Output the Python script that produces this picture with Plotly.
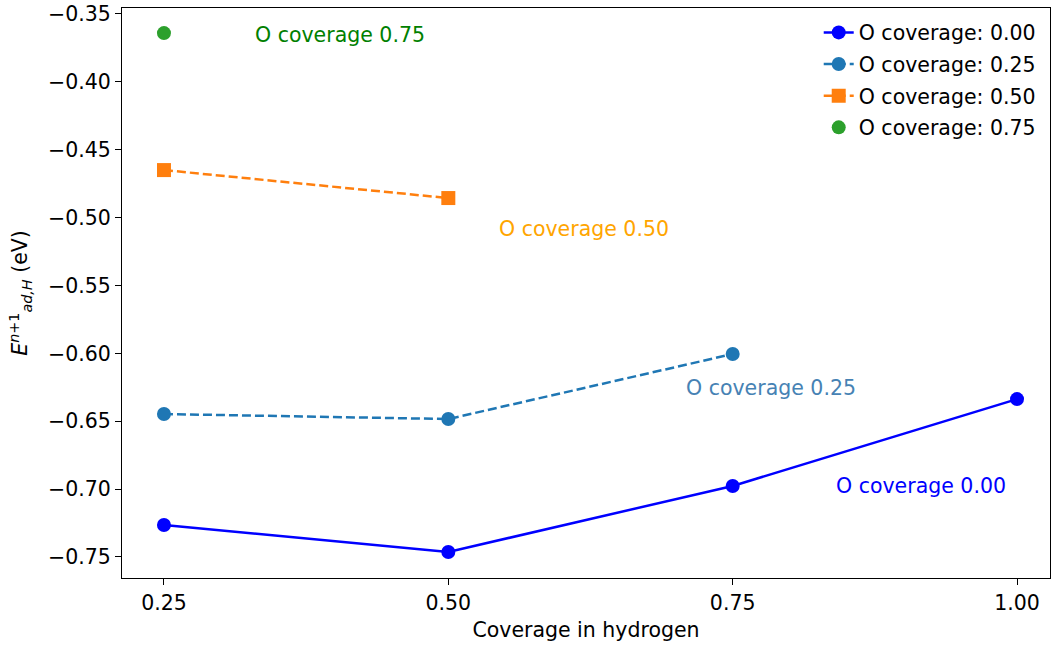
import plotly.graph_objects as go

x_h = [0.25, 0.50, 0.75, 1.00]
e_o000 = [-0.7265, -0.7463, -0.6977, -0.6337]
e_o025 = [-0.6447, -0.6484, -0.6005]
e_o050 = [-0.4650, -0.4856]
e_o075 = [-0.3641]

ytick_vals = [-0.35, -0.40, -0.45, -0.50, -0.55, -0.60, -0.65, -0.70, -0.75]
ytick_text = ["−0.35", "−0.40", "−0.45", "−0.50", "−0.55", "−0.60", "−0.65", "−0.70", "−0.75"]
xtick_vals = [0.25, 0.50, 0.75, 1.00]
xtick_text = ["0.25", "0.50", "0.75", "1.00"]

ann_text = ["O coverage 0.75", "O coverage 0.50", "O coverage 0.25", "O coverage 0.00"]
ann_x = [0.4048, 0.6193, 0.7837, 0.9156]
ann_y = [-0.3655, -0.5083, -0.6254, -0.6976]
ann_col = ["green", "orange", "steelblue", "blue"]

font = "DejaVu Sans"
fs = 20.5
dash = "9px,4px"
fig = go.Figure()
fig.add_trace(go.Scatter(x=x_h, y=e_o000, mode="lines+markers", name="O coverage: 0.00", legendgroup="g0",
                         line=dict(color="blue", width=2.5), marker=dict(size=14, color="blue")))
fig.add_trace(go.Scatter(x=x_h[:3], y=e_o025, mode="lines+markers", name="O coverage: 0.25", legendgroup="g1",
                         line=dict(color="#1f77b4", width=2.5, dash=dash), marker=dict(size=14, color="#1f77b4")))
fig.add_trace(go.Scatter(x=x_h[:2], y=e_o050, mode="lines+markers", name="O coverage: 0.50", legendgroup="g2",
                         line=dict(color="#ff7f0e", width=2.5, dash=dash),
                         marker=dict(size=14, color="#ff7f0e", symbol="square")))
fig.add_trace(go.Scatter(x=x_h[:1], y=e_o075, mode="markers", name="O coverage: 0.75", legendgroup="g3",
                         marker=dict(size=14, color="#2ca02c")))

for t, ax_, ay_, c in zip(ann_text, ann_x, ann_y, ann_col):
    fig.add_annotation(x=ax_, y=ay_, text=t, showarrow=False, font=dict(color=c, size=fs, family=font))

axis_common = dict(showgrid=False, zeroline=False, showline=True, linecolor="black", linewidth=1.2,
                   mirror=True, ticks="outside", ticklen=6, tickcolor="black", automargin=False,
                   tickfont=dict(size=fs, color="black", family=font))
fig.update_xaxes(range=[0.2131, 1.029], tickvals=xtick_vals, ticktext=xtick_text,
                 title=dict(text="Coverage in hydrogen", font=dict(size=fs, family=font, color="black"), standoff=8),
                 **axis_common)
fig.update_yaxes(range=[-0.7655, -0.3456], tickvals=ytick_vals, ticktext=ytick_text,
                 title=dict(text="<i>E</i><sup><i>n</i>+1</sup><sub><i>ad,H</i></sub> (eV)",
                            font=dict(size=fs, family=font, color="black"), standoff=14),
                 **axis_common)
fig.update_layout(width=1052, height=645, plot_bgcolor="white", paper_bgcolor="white",
                  margin=dict(l=122, r=2, t=8, b=67),
                  font=dict(family=font, size=fs, color="black"),
                  legend=dict(x=0.99, y=0.992, xanchor="right", yanchor="top",
                              bgcolor="rgba(255,255,255,0.8)", borderwidth=0,
                              font=dict(size=fs, family=font), tracegroupgap=2))
fig.write_html("out.html", config={"displayModeBar": False},
               post_script="document.body.style.margin='0';document.body.style.padding='0';")
